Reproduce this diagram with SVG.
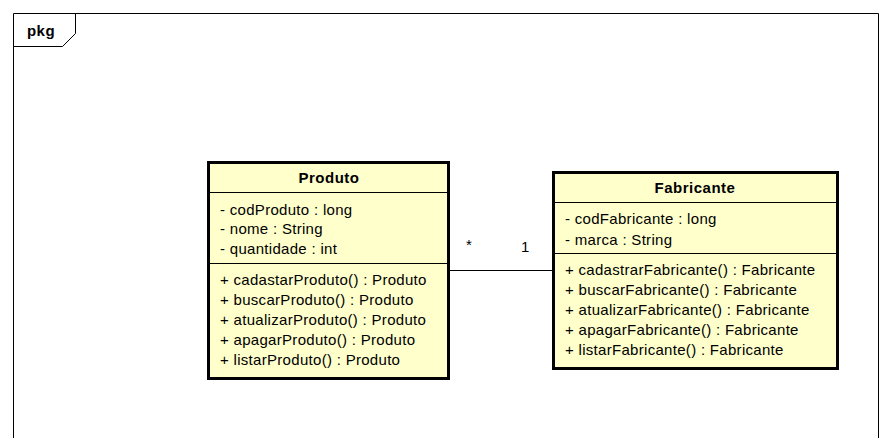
<svg xmlns="http://www.w3.org/2000/svg" width="892" height="438" viewBox="0 0 892 438">
  <style>
    .frame { fill: none; stroke: #000; stroke-width: 1; }
    .cls { fill: #FFFFCC; stroke: #000; stroke-width: 3; }
    .sep { stroke: #000; stroke-width: 1; }
    .t { font-family: "Liberation Sans", Arial, sans-serif; font-size: 15px; letter-spacing: 0.3px; fill: #000; }
    .title { font-family: "Liberation Sans", Arial, sans-serif; font-size: 15px; letter-spacing: 0.5px; font-weight: bold; fill: #000; text-anchor: middle; }
    .conn { stroke: #000; stroke-width: 1; fill: none; }
  </style>
  <rect width="892" height="438" fill="#fff"/>

  <!-- package frame -->
  <g id="pkg">
    <path class="frame" d="M13.5,445 V13.5 H878.5 V445"/>
    <path class="frame" d="M13.5,46.5 H62.5 L75.5,33.5 V13.5"/>
    <text class="title" x="41" y="36">pkg</text>
  </g>

  <!-- connectors -->
  <g id="connectors">
    <line class="conn" x1="449" y1="270.5" x2="552" y2="270.5"/>
    <text class="t" x="466" y="250">*</text>
    <text class="t" x="521" y="252">1</text>
  </g>

  <!-- Produto class -->
  <g id="Produto">
    <rect class="cls" x="208.5" y="162.5" width="240" height="216"/>
    <line class="sep" x1="208.5" y1="192.5" x2="448.5" y2="192.5"/>
    <line class="sep" x1="208.5" y1="263.5" x2="448.5" y2="263.5"/>
    <text class="title" x="329" y="183">Produto</text>
    <text class="t" x="220" y="215">- codProduto : long</text>
    <text class="t" x="220" y="234">- nome : String</text>
    <text class="t" x="220" y="254">- quantidade : int</text>
    <text class="t" x="220" y="285">+ cadastarProduto() : Produto</text>
    <text class="t" x="220" y="305">+ buscarProduto() : Produto</text>
    <text class="t" x="220" y="325">+ atualizarProduto() : Produto</text>
    <text class="t" x="220" y="345">+ apagarProduto() : Produto</text>
    <text class="t" x="220" y="365">+ listarProduto() : Produto</text>
  </g>

  <!-- Fabricante class -->
  <g id="Fabricante">
    <rect class="cls" x="553.5" y="172.5" width="284" height="196"/>
    <line class="sep" x1="553.5" y1="202.5" x2="837.5" y2="202.5"/>
    <line class="sep" x1="553.5" y1="253.5" x2="837.5" y2="253.5"/>
    <text class="title" x="695" y="193">Fabricante</text>
    <text class="t" x="565" y="224">- codFabricante : long</text>
    <text class="t" x="565" y="245">- marca : String</text>
    <text class="t" x="565" y="275">+ cadastrarFabricante() : Fabricante</text>
    <text class="t" x="565" y="295">+ buscarFabricante() : Fabricante</text>
    <text class="t" x="565" y="315">+ atualizarFabricante() : Fabricante</text>
    <text class="t" x="565" y="335">+ apagarFabricante() : Fabricante</text>
    <text class="t" x="565" y="355">+ listarFabricante() : Fabricante</text>
  </g>
</svg>
